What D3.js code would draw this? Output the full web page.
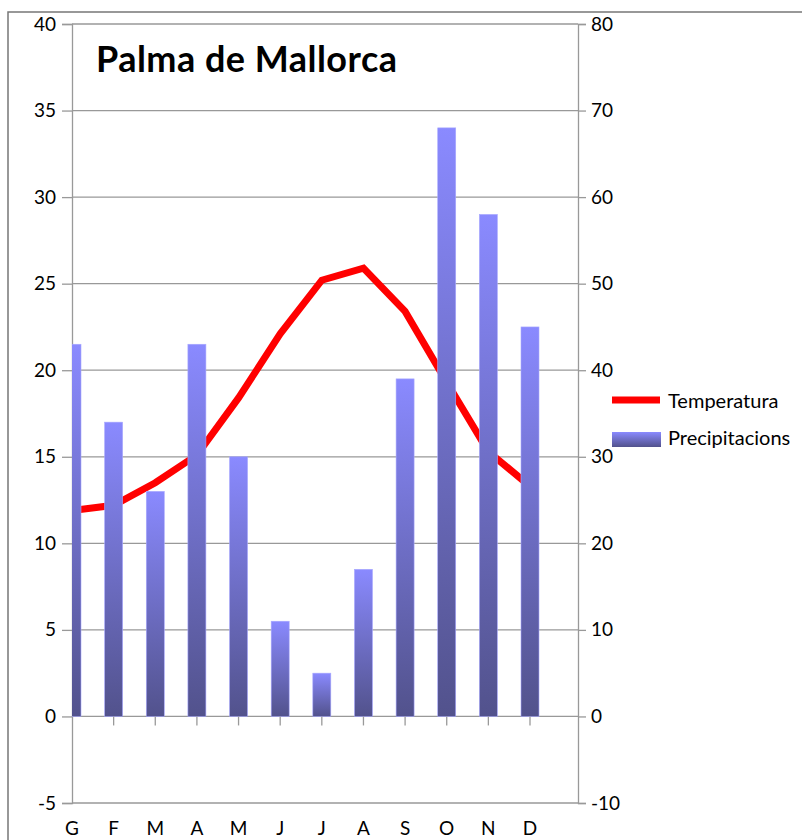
<!DOCTYPE html>
<html>
<head>
<meta charset="utf-8">
<script src="https://cdn.jsdelivr.net/npm/d3@7"></script>
<style>
  body { margin: 0; background: #fff; }
  text { font-family: Lato, "Noto Sans", sans-serif; }
</style>
</head>
<body>
<div class="chart"></div>
<script>
"use strict";

const months = ["G", "F", "M", "A", "M", "J", "J", "A", "S", "O", "N", "D"];
const temperatura = [11.9, 12.2, 13.5, 15.1, 18.4, 22.1, 25.2, 25.9, 23.4, 19.3, 15.3, 13.3];
const precipitacions = [43, 34, 26, 43, 30, 11, 5, 17, 39, 68, 58, 45];
const leftTicks = [-5, 0, 5, 10, 15, 20, 25, 30, 35, 40];
const rightTicks = [-10, 0, 10, 20, 30, 40, 50, 60, 70, 80];

window.onload = () => main();

function main() {
    const config = { width: 802, height: 840, left: 72, right: 578, top: 24, bottom: 803 };

    const svg = d3.select(".chart")
        .append("svg")
        .attr("width", config.width)
        .attr("height", config.height);

    const defs = svg.append("defs");
    const grad = defs.append("linearGradient")
        .attr("id", "barGrad")
        .attr("x1", 0).attr("y1", 0).attr("x2", 0).attr("y2", 1);
    grad.append("stop").attr("offset", "0%").attr("stop-color", "#8a8aff");
    grad.append("stop").attr("offset", "100%").attr("stop-color", "#52528c");

    defs.append("clipPath").attr("id", "plotClip")
        .append("rect")
        .attr("x", config.left).attr("y", config.top)
        .attr("width", config.right - config.left)
        .attr("height", config.bottom - config.top);

    // outer frame
    svg.append("path")
        .attr("d", "M8,840 L8,12 L802,12")
        .attr("fill", "none")
        .attr("stroke", "#777")
        .attr("stroke-width", 1.5);

    // x positions: one point per month, index based so repeated letters stay apart
    const x = d3.scalePoint()
        .domain(d3.range(months.length))
        .range([config.left, 530]);

    const yT = d3.scaleLinear().domain([-5, 40]).range([config.bottom, config.top]);
    const yP = d3.scaleLinear().domain([-10, 80]).range([config.bottom, config.top]);

    // grid
    svg.append("g")
        .selectAll("line")
        .data(leftTicks)
        .enter()
        .append("line")
        .attr("x1", config.left).attr("x2", config.right)
        .attr("y1", (d) => yT(d)).attr("y2", (d) => yT(d))
        .attr("stroke", "#999")
        .attr("stroke-width", 1.3);

    const fmt = (d) => String(d); // plain hyphen for negatives

    // left axis
    const leftAxis = svg.append("g")
        .attr("transform", `translate(${config.left},0)`)
        .call(d3.axisLeft(yT).tickValues(leftTicks).tickFormat(fmt).tickSize(10).tickPadding(6));
    // right axis
    const rightAxis = svg.append("g")
        .attr("transform", `translate(${config.right},0)`)
        .call(d3.axisRight(yP).tickValues(rightTicks).tickFormat(fmt).tickSize(8).tickPadding(5));

    [leftAxis, rightAxis].forEach((g) => {
        g.select(".domain").attr("stroke", "#999").attr("stroke-width", 1.3);
        g.selectAll(".tick line").attr("stroke", "#999").attr("stroke-width", 1.3);
        g.selectAll(".tick text")
            .attr("fill", "#000")
            .style("font-size", "19px")
            .style("font-family", "Lato, sans-serif");
    });

    // temperature line (drawn behind the bars)
    const line = d3.line()
        .x((d, i) => x(i))
        .y((d) => yT(d));
    svg.append("path")
        .datum(temperatura)
        .attr("clip-path", "url(#plotClip)")
        .attr("d", line)
        .attr("fill", "none")
        .attr("stroke", "#ff0000")
        .attr("stroke-width", 7)
        .attr("stroke-linejoin", "miter");

    // bars
    const barWidth = 18;
    svg.append("g")
        .attr("clip-path", "url(#plotClip)")
        .selectAll("rect")
        .data(precipitacions)
        .enter()
        .append("rect")
        .attr("x", (d, i) => x(i) - barWidth / 2)
        .attr("y", (d) => yP(d))
        .attr("width", barWidth)
        .attr("height", (d) => yP(0) - yP(d))
        .attr("fill", "url(#barGrad)")
        .attr("stroke", "#a8a8ff")
        .attr("stroke-width", 0.6);

    // month ticks below the zero line
    svg.append("g")
        .selectAll("line")
        .data(d3.range(1, months.length))
        .enter()
        .append("line")
        .attr("x1", (d) => x(d)).attr("x2", (d) => x(d))
        .attr("y1", yT(0)).attr("y2", yT(0) + 9)
        .attr("stroke", "#999")
        .attr("stroke-width", 1.3);

    // month labels
    svg.append("g")
        .selectAll("text")
        .data(months)
        .enter()
        .append("text")
        .attr("x", (d, i) => x(i))
        .attr("y", 835)
        .attr("text-anchor", "middle")
        .style("font-size", "19px")
        .text((d) => d);

    // title
    svg.append("text")
        .attr("x", 96)
        .attr("y", 72)
        .style("font-size", "36px")
        .style("font-weight", "bold")
        .attr("textLength", 301)
        .text("Palma de Mallorca");

    // legend
    const legend = svg.append("g");
    legend.append("line")
        .attr("x1", 612).attr("x2", 660)
        .attr("y1", 400).attr("y2", 400)
        .attr("stroke", "#ff0000")
        .attr("stroke-width", 7);
    legend.append("text")
        .attr("x", 668).attr("y", 408)
        .style("font-size", "20px")
        .text("Temperatura");
    legend.append("rect")
        .attr("x", 612).attr("y", 432)
        .attr("width", 49).attr("height", 15)
        .attr("fill", "url(#barGrad)");
    legend.append("text")
        .attr("x", 668).attr("y", 445)
        .style("font-size", "20px")
        .text("Precipitacions");
}
</script>
</body>
</html>
